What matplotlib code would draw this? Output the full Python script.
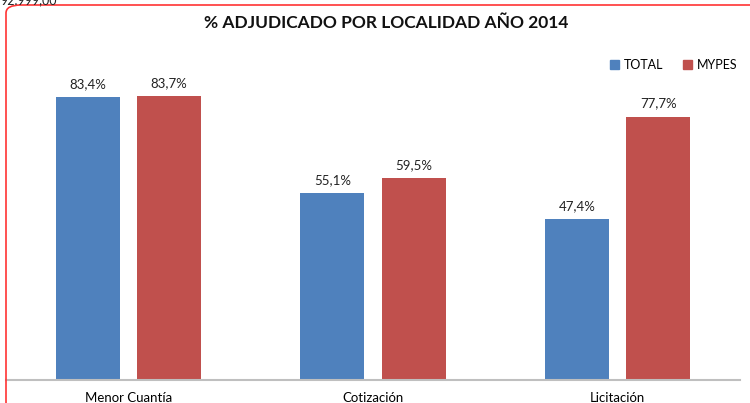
import numpy as np
import matplotlib.pyplot as plt
from matplotlib.patches import FancyBboxPatch, Patch

categorias = ['Menor Cuantía', 'Cotización', 'Licitación']
total = [83.4, 55.1, 47.4]
mypes = [83.7, 59.5, 77.7]
etiquetas_total = ['83,4%', '55,1%', '47,4%']
etiquetas_mypes = ['83,7%', '59,5%', '77,7%']

plt.rcParams['font.family'] = ['Lato', 'DejaVu Sans']

azul = '#4F81BD'
rojo = '#C0504D'

fig = plt.figure(figsize=(7.5, 4.03), dpi=100)
ax = fig.add_axes([6 / 750, 1 - 380 / 403, 734 / 750, 339 / 403])

x = np.arange(len(categorias))
ancho = 0.262
sep = 0.035
b1 = ax.bar(x - sep - ancho / 2, total, ancho, color=azul)
b2 = ax.bar(x + sep + ancho / 2, mypes, ancho, color=rojo)

for barras, etiquetas in ((b1, etiquetas_total), (b2, etiquetas_mypes)):
    for b, t in zip(barras, etiquetas):
        ax.text(b.get_x() + b.get_width() / 2, b.get_height() + 2.2, t,
                ha='center', va='bottom', fontsize=9.5, color='#222222')

ax.set_xlim(-0.5, 2.5)
ax.set_ylim(0, 100)
ax.set_yticks([])
ax.set_xticks(x)
ax.set_xticklabels(categorias, fontsize=9.5)
ax.tick_params(axis='x', length=0, pad=9)
for s in ('top', 'right', 'left'):
    ax.spines[s].set_visible(False)
ax.spines['bottom'].set_color('#BFBFBF')
ax.spines['bottom'].set_linewidth(1.5)
ax.patch.set_alpha(0)

fig.text(386 / 750, 1 - 23 / 403, '% ADJUDICADO POR LOCALIDAD AÑO 2014',
         ha='center', va='center', fontsize=12.5, fontweight='bold', color='#111111')

fig.legend(handles=[Patch(color=azul, label='TOTAL'), Patch(color=rojo, label='MYPES')],
           loc='center', bbox_to_anchor=(674 / 750, 1 - 65 / 403), ncol=2,
           frameon=False, fontsize=9, handlelength=0.7, handleheight=0.7,
           handletextpad=0.4, columnspacing=1.6)

marco = FancyBboxPatch((6 / 750, -20 / 403), 800 / 750, 418 / 403,
                       boxstyle='round,pad=0,rounding_size=0.02',
                       transform=fig.transFigure, fill=False,
                       edgecolor='#FF3333', linewidth=1.2, clip_on=False)
fig.patches.append(marco)

# texto cortado arriba a la izquierda, como en la captura original
fig.text(0.0, 1.0, '92.999,00', ha='left', va='center', fontsize=9, color='#222222')

fig.savefig('out.png', dpi=100)
